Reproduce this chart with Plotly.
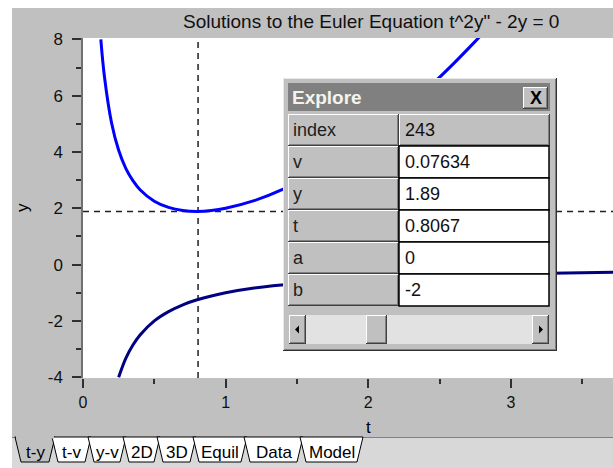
import plotly.graph_objects as go

# ---------------- data ----------------
upper_t = [0.125, 0.15, 0.2, 0.25, 0.3, 0.35, 0.4, 0.5, 0.6, 0.7, 0.8, 0.9, 1.0,
           1.2, 1.4, 1.6, 1.8, 2.0, 2.2, 2.4, 2.6, 2.75, 2.8]
upper_y = [8.0, 6.69, 5.04, 4.06, 3.42, 2.98, 2.66, 2.25, 2.03, 1.92, 1.89, 1.92, 2.0,
           2.27, 2.67, 3.19, 3.80, 4.5, 5.29, 6.18, 7.15, 7.93, 8.2]
lower_t = [0.25, 0.3, 0.35, 0.4, 0.5, 0.6, 0.7, 0.8, 1.0, 1.2, 1.5, 2.0, 2.5, 3.0, 3.5, 3.75]
lower_y = [-4.0, -3.33, -2.86, -2.5, -2.0, -1.67, -1.43, -1.25, -1.0, -0.83, -0.67, -0.5,
           -0.4, -0.33, -0.29, -0.27]
cursor_t = 0.8067
cursor_y = 1.89

chart_title = 'Solutions to the Euler Equation t^2y" - 2y = 0'
x_label = "t"
y_label = "y"
x_tick_vals = [0, 1, 2, 3]
x_tick_text = ["0", "1", "2", "3"]
y_tick_vals = [-4, -2, 0, 2, 4, 6, 8]
y_tick_text = ["-4", "-2", "0", "2", "4", "6", "8"]

explore_title = "Explore"
explore_labels = ["index", "v", "y", "t", "a", "b"]
explore_values = ["243", "0.07634", "1.89", "0.8067", "0", "-2"]
tab_labels = ["t-y", "t-v", "y-v", "2D", "3D", "Equil", "Data", "Model"]

x_range = [0, 3.716]
y_range = [-4.03, 8.05]

# ---------------- layout helpers (pixel -> paper) ----------------
W, H = 613, 468
L, R, T, B = 83, 613, 38, 378
FONT = "Liberation Sans"
GRAY = "#c0c0c0"


def px(x):
    return (x - L) / (R - L)


def py(y):
    return (B - y) / (B - T)


shapes = []
annos = []


def rect(x0, y0, x1, y1, fill, line_color=None, lw=1, layer="above"):
    shapes.append(dict(type="rect", xref="paper", yref="paper",
                       x0=px(x0), x1=px(x1), y0=py(y1), y1=py(y0),
                       fillcolor=fill, layer=layer,
                       line=dict(width=lw if line_color else 0, color=line_color or fill)))


def bevel(x0, y0, x1, y1, face=GRAY, raised=True):
    tl, br = ("#ffffff", "#404040") if raised else ("#404040", "#ffffff")
    rect(x0, y0, x1, y1, br)
    rect(x0, y0, x1 - 1, y1 - 1, tl)
    rect(x0 + 1, y0 + 1, x1 - 1, y1 - 1, "#808080" if raised else "#e0e0e0")
    rect(x0 + 1, y0 + 1, x1 - 2, y1 - 2, face)


def text(x, y, s, size=14, color="#000000", anchor="left", bold=False, angle=0, family=FONT):
    annos.append(dict(xref="paper", yref="paper", x=px(x), y=py(y), text=("<b>%s</b>" % s) if bold else s,
                      showarrow=False, xanchor=anchor, yanchor="middle", textangle=angle,
                      font=dict(family=family, size=size, color=color)))


# frame: white strips at top and left
rect(0, 0, W, 8, "#ffffff", layer="below")
rect(0, 0, 12, H, "#ffffff", layer="below")

# chart title and axis titles
text(371, 22, chart_title, size=19, color="#101010", anchor="center")
text(368, 427, x_label, size=17, anchor="center")
text(22, 208, y_label, size=17, anchor="center", angle=-90)

# ---------------- explore dialog ----------------
rect(283, 78, 557, 351, "#303030")
rect(283, 78, 556, 350, "#e8e8e8")
rect(284, 79, 556, 350, "#808080")
rect(284, 79, 555, 349, GRAY)
rect(288, 83, 550, 111, "#808080")
text(290, 97, explore_title, size=19, color="#f4f4ec", bold=True)
bevel(523, 87, 548, 109)
text(535.5, 98, "X", size=18, anchor="center", bold=True)

row_h = 32
for i, (lab, val) in enumerate(zip(explore_labels, explore_values)):
    top = 114 + i * row_h
    bevel(288, top, 399, top + row_h)
    text(291, top + 16, lab, size=18, color="#202020")
    if i == 0:
        bevel(399, top, 550, top + row_h)
    else:
        rect(399, top, 549, top + row_h, "#ffffff", line_color="#000000", lw=1.5)
    text(403, top + 16, val, size=18, color="#101010")

# scrollbar
rect(289, 315, 549, 344, "#e2e2e2")
bevel(289, 315, 306, 344)
bevel(366, 315, 387, 344)
bevel(532, 315, 549, 344)
shapes.append(dict(type="path", xref="paper", yref="paper", layer="above",
                   path="M %f,%f L %f,%f L %f,%f Z" % (px(295), py(329.5), px(299), py(325.5), px(299), py(333.5)),
                   fillcolor="#000000", line=dict(width=0)))
shapes.append(dict(type="path", xref="paper", yref="paper", layer="above",
                   path="M %f,%f L %f,%f L %f,%f Z" % (px(543), py(329.5), px(539), py(325.5), px(539), py(333.5)),
                   fillcolor="#000000", line=dict(width=0)))

# ---------------- tab strip ----------------
rect(12, 437, W, H, "#d8d8d8")
rect(12, 437, W, 438, "#808080")
bounds = [15, 52, 88, 123, 157, 193, 244, 300, 360]
for i, lab in enumerate(tab_labels):
    a, b = bounds[i], bounds[i + 1]
    path = "M %f,%f L %f,%f L %f,%f L %f,%f Z" % (
        px(a), py(437), px(a + 6), py(462), px(b - 3), py(462), px(b + 3), py(437))
    shapes.append(dict(type="path", xref="paper", yref="paper", layer="above", path=path,
                       fillcolor=GRAY if i == 0 else "#ffffff",
                       line=dict(width=1, color="#000000")))
    text((a + b) / 2 + 1.5, 452, lab, size=17, color="#000000", anchor="center")
rect(16, 436, 54, 438.5, GRAY)

# ---------------- figure ----------------
fig = go.Figure()
fig.add_trace(go.Scatter(x=[cursor_t, cursor_t], y=y_range, mode="lines",
                         line=dict(color="#202020", width=1.5, dash="6px,5px"), hoverinfo="skip"))
fig.add_trace(go.Scatter(x=x_range, y=[cursor_y, cursor_y], mode="lines",
                         line=dict(color="#202020", width=1.5, dash="6px,5px"), hoverinfo="skip"))
fig.add_trace(go.Scatter(x=upper_t, y=upper_y, mode="lines", line=dict(color="#0000ff", width=3, shape="spline")))
fig.add_trace(go.Scatter(x=lower_t, y=lower_y, mode="lines", line=dict(color="#000080", width=3, shape="spline")))

fig.update_layout(
    width=W, height=H, showlegend=False,
    margin=dict(l=L, r=W - R, t=T, b=H - B, pad=0),
    paper_bgcolor=GRAY, plot_bgcolor="#ffffff",
    font=dict(family=FONT, size=14, color="#000000"),
    shapes=shapes, annotations=annos,
    xaxis=dict(range=x_range, tickvals=x_tick_vals, ticktext=x_tick_text, ticks="outside", ticklen=9, tickwidth=1.5,
               tickcolor="#303030", showgrid=False, zeroline=False, showline=False,
               ticklabelstandoff=1, tickfont=dict(size=16, color="#101010"),
               minor=dict(dtick=0.5, ticks="outside", ticklen=5, tickwidth=1.5, tickcolor="#303030", showgrid=False)),
    yaxis=dict(range=y_range, tickvals=y_tick_vals, ticktext=y_tick_text, ticks="outside", ticklen=9, tickwidth=1.5,
               tickcolor="#303030", showgrid=False, zeroline=False, showline=True, linecolor="#707070",
               linewidth=1.5, ticklabelstandoff=6, tickfont=dict(size=17, color="#101010"),
               minor=dict(dtick=1, ticks="outside", ticklen=5, tickwidth=1.5, tickcolor="#303030", showgrid=False)),
)

fig.write_html("out.html", post_script="document.body.style.margin='0px';",
               config={"displayModeBar": False})
